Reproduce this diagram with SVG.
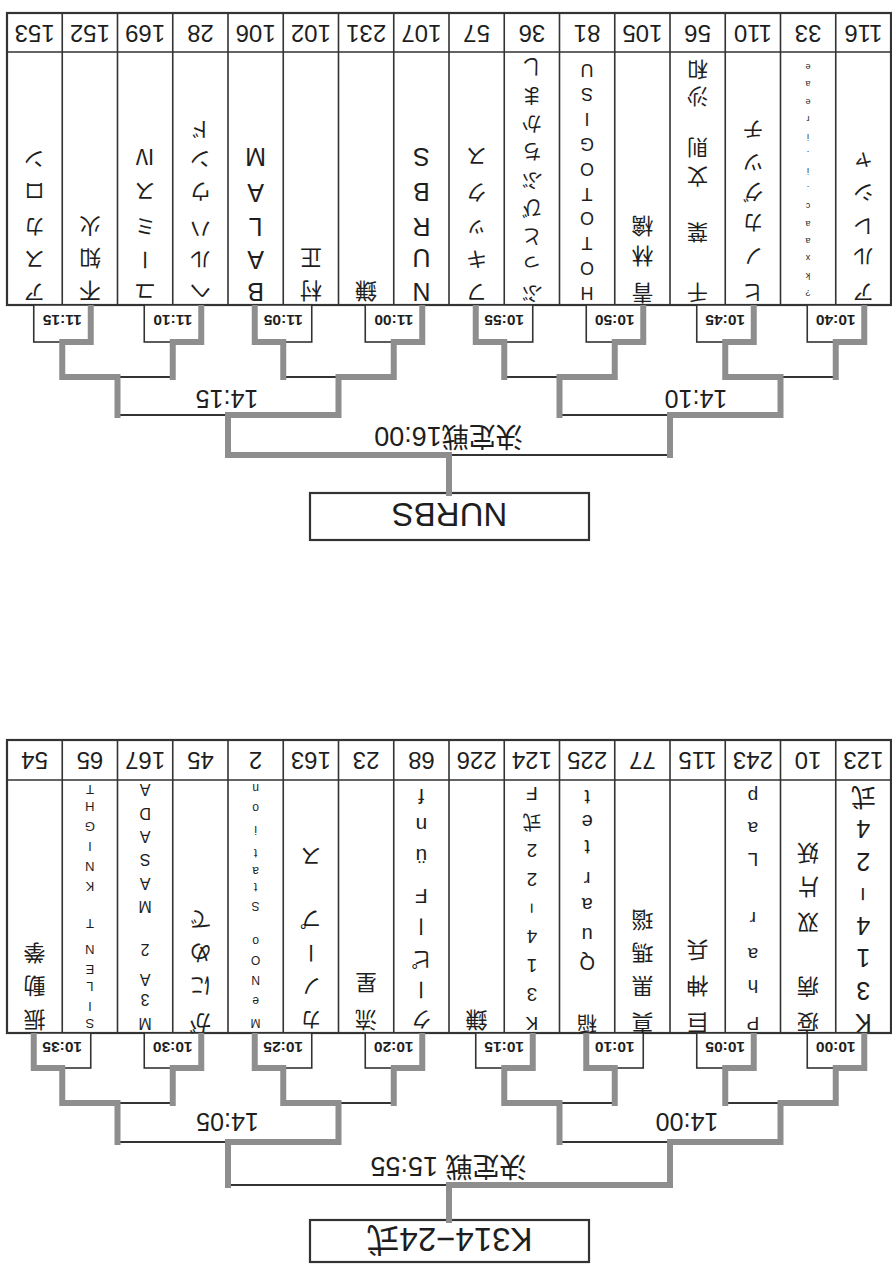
<svg xmlns="http://www.w3.org/2000/svg" width="892" height="1265" viewBox="0 0 892 1265">
<style>
.frame{fill:#fff;stroke:#333;stroke-width:2.2}
.grid{fill:none;stroke:#333;stroke-width:1.6}
.box{fill:#fff;stroke:#333;stroke-width:1.6}
.thin{fill:none;stroke:#333;stroke-width:2}
.thick{fill:none;stroke:#8e8e8e;stroke-width:6;stroke-linecap:square}
.edge{fill:none;stroke:#8e8e8e;stroke-width:6;stroke-linecap:butt}
text{font-family:"Liberation Sans","Noto Sans CJK JP",sans-serif;fill:#1e1e1e}
.num{font-size:24px;text-anchor:middle}
.tm{font-size:15.5px;font-weight:bold;text-anchor:middle}
.lv{font-size:25px;text-anchor:middle}
.fin{font-size:27px;text-anchor:middle}
.win{font-size:33px;text-anchor:middle}
.nm{text-anchor:middle}
</style>
<rect width="892" height="1265" fill="#fff"/>
<g transform="rotate(180 446 632.5)">
<!-- ===== K314 bracket (top when upright) ===== -->
<g id="k314-table">
<rect class="frame" x="1" y="232" width="884" height="293"/>
<path class="grid" d="M56.25 232V525M111.5 232V525M166.75 232V525M222 232V525M277.25 232V525M332.5 232V525M387.75 232V525M443 232V525M498.25 232V525M553.5 232V525M608.75 232V525M664 232V525M719.25 232V525M774.5 232V525M829.75 232V525M1 485H885"/>
</g>
<g id="k314-winner"><rect class="frame" x="303" y="3" width="279" height="42"/><text class="win" x="442.5" y="37">K314−24式</text></g>
<g id="k314-matches">
<g id="m1000"><rect class="box" x="27.75" y="197" width="57" height="35"/></g>
<g id="m1005"><rect class="box" x="138.25" y="197" width="57" height="35"/></g>
<g id="m1010"><rect class="box" x="248.75" y="197" width="57" height="35"/></g>
<g id="m1015"><rect class="box" x="359.25" y="197" width="57" height="35"/></g>
<g id="m1020"><rect class="box" x="469.75" y="197" width="57" height="35"/></g>
<g id="m1025"><rect class="box" x="580.25" y="197" width="57" height="35"/></g>
<g id="m1030"><rect class="box" x="690.75" y="197" width="57" height="35"/></g>
<g id="m1035"><rect class="box" x="801.25" y="197" width="57" height="35"/></g>
</g>
<g id="k314-connectors">
<path class="thin" d="M56.25 162H166.75M277.25 162H387.75M498.25 162H608.75M719.25 162H829.75M111.5 123H332.5M553.5 123H774.5M222 80H664"/>
<path class="thick" d="M56.25 162V197M166.75 162V197M277.25 162V197M387.75 162V197M498.25 162V197M608.75 162V197M719.25 162V197M829.75 162V197M111.5 123V162M332.5 123V162M553.5 123V162M774.5 123V162M222 80V123M664 80V123M443 45V80M56.25 162H111.5M332.5 162H387.75M553.5 162H608.75M774.5 162H829.75M111.5 123H222M553.5 123H664M222 80H443"/>
<path class="edge" d="M56.25 197H27.75V232M166.75 197H138.25V232M277.25 197H305.75V232M387.75 197H359.25V232M498.25 197H469.75V232M608.75 197H637.25V232M719.25 197H690.75V232M829.75 197H858.25V232"/>
</g>
<g id="k314-labels">
<text class="tm" x="56.25" y="223">10:00</text><text class="tm" x="166.75" y="223">10:05</text><text class="tm" x="277.25" y="223">10:10</text><text class="tm" x="387.75" y="223">10:15</text><text class="tm" x="498.25" y="223">10:20</text><text class="tm" x="608.75" y="223">10:25</text><text class="tm" x="719.25" y="223">10:30</text><text class="tm" x="829.75" y="223">10:35</text>
<text class="lv" x="205" y="152">14:00</text><text class="lv" x="664.5" y="152">14:05</text>
<text class="fin" x="443.5" y="108">決定戦 15:55</text>
</g>
<g id="k314-entries">
<g id="k-e0"><text class="num" x="28.6" y="513">123</text><text class="nm" font-size="25" x="28.6 28.6 28.6 28.6 27.9 28.6 28.6 28.6" y="251 283.3 315.6 347.9 363.8 412.4 444.7 477.5" rotate="0 0 0 0 90 0 0 0">K314−24式</text></g>
<g id="k-e1"><text class="num" x="83.9" y="513">10</text><text class="nm" font-size="22" x="83.9 83.9 83.9 83.9 83.9 83.9" y="249.7 286.3 318 349.7 386.3 419.7">疫病 双片妖</text></g>
<g id="k-e2"><text class="num" x="139.1" y="513">243</text><text class="nm" font-size="19" x="139.1 139.1 139.1 139.1 139.1 139.1 139.1 139.1" y="248.5 285.1 316.7 353.3 383 411.8 443.3 474.7">Phar Lap</text></g>
<g id="k-e3"><text class="num" x="194.4" y="513">115</text><text class="nm" font-size="22" x="194.4 194.4 194.4" y="250.1 286.7 323.4">巨神兵</text></g>
<g id="k-e4"><text class="num" x="249.6" y="513">77</text><text class="nm" font-size="22" x="249.6 249.6 249.6 249.6" y="250.1 286.7 320.1 353.4">真黒瑪瑙</text></g>
<g id="k-e5"><text class="num" x="304.9" y="513">225</text><text class="nm" font-size="20" x="304.9 304.9 304.9 304.9 304.9 304.9 304.9 304.9 304.9" y="249.3 276 308.9 336.9 366.9 393.5 424.9 450.2 474.9">稲 Quartet</text></g>
<g id="k-e6"><text class="num" x="360.1" y="513">124</text><text class="nm" font-size="19" x="360.1 360.1 360.1 360.1 359.6 360.1 360.1 360.1 360.1" y="248.5 277.2 306 334.7 351.2 392.2 421 450.1 478.5" rotate="0 0 0 0 90 0 0 0 0">K314−22式F</text></g>
<g id="k-e7"><text class="num" x="415.4" y="513">226</text><text class="nm" font-size="22" x="415.4" y="253.4">鎌</text></g>
<g id="k-e8"><text class="num" x="470.6" y="513">68</text><text class="nm" font-size="21" x="470.6 473.1 470.6 473.1 470.6 470.6 470.6 470.6" y="253 264.5 313 327.8 375.9 415.7 447.2 475.9" rotate="0 90 0 90 0 0 0 0">クーピーFünf</text></g>
<g id="k-e9"><text class="num" x="525.9" y="513">23</text><text class="nm" font-size="22" x="525.9 525.9" y="253.4 290.1">流星</text></g>
<g id="k-e10"><text class="num" x="581.1" y="513">163</text><text class="nm" font-size="21" x="581.1 581.1 583.6 581.1 581.1" y="253 286.3 301.2 353 416.3" rotate="0 0 90 0 0">カノープス</text></g>
<g id="k-e11"><text class="num" x="636.4" y="513">2</text><text class="nm" font-size="12" x="636.4 636.4 636.4 636.4 636.4 636.4 636.4 636.4 636.4 636.4 636.4 636.4 636.4" y="246 268.1 289.3 309.3 328.1 345 362.6 382.3 398.1 415.7 439.3 461.4 481.4">MeNOo Station</text></g>
<g id="k-e12"><text class="num" x="691.6" y="513">45</text><text class="nm" font-size="22" x="691.6 691.6 691.6 691.6" y="250.1 286.7 320.1 353.4">がにめで</text></g>
<g id="k-e13"><text class="num" x="746.9" y="513">167</text><text class="nm" font-size="16" x="746.9 746.9 746.9 746.9 746.9 746.9 746.9 746.9 746.9 746.9 746.9" y="247.5 270.8 290.8 320.8 342.5 364.1 387.5 410.8 434.1 457.5 480.8">M3A2 MASADA</text></g>
<g id="k-e14"><text class="num" x="802.1" y="513">65</text><text class="nm" font-size="13" x="802.1 802.1 802.1 802.1 802.1 802.1 802.1 802.1 802.1 802.1 802.1 802.1 802.1" y="246.4 263 283 299.7 319.7 346.4 364.7 383 403 423 443 463 479.7">SILENT KNIGHT</text></g>
<g id="k-e15"><text class="num" x="857.4" y="513">54</text><text class="nm" font-size="22" x="857.4 857.4 857.4" y="253.4 286.7 320.1">振動拳</text></g>
</g>

<!-- ===== NURBS bracket (bottom when upright) ===== -->
<g id="nurbs-table">
<rect class="frame" x="1" y="960" width="884" height="292"/>
<path class="grid" d="M56.25 960V1252M111.5 960V1252M166.75 960V1252M222 960V1252M277.25 960V1252M332.5 960V1252M387.75 960V1252M443 960V1252M498.25 960V1252M553.5 960V1252M608.75 960V1252M664 960V1252M719.25 960V1252M774.5 960V1252M829.75 960V1252M1 1213H885"/>
</g>
<g id="nurbs-winner"><rect class="frame" x="303" y="725" width="279" height="47"/><text class="win" x="442.5" y="762">NURBS</text></g>
<g id="nurbs-matches">
<g id="m1040"><rect class="box" x="27.75" y="923" width="57" height="37"/></g>
<g id="m1045"><rect class="box" x="138.25" y="923" width="57" height="37"/></g>
<g id="m1050"><rect class="box" x="248.75" y="923" width="57" height="37"/></g>
<g id="m1055"><rect class="box" x="359.25" y="923" width="57" height="37"/></g>
<g id="m1100"><rect class="box" x="469.75" y="923" width="57" height="37"/></g>
<g id="m1105"><rect class="box" x="580.25" y="923" width="57" height="37"/></g>
<g id="m1110"><rect class="box" x="690.75" y="923" width="57" height="37"/></g>
<g id="m1115"><rect class="box" x="801.25" y="923" width="57" height="37"/></g>
</g>
<g id="nurbs-connectors">
<path class="thin" d="M56.25 888H166.75M277.25 888H387.75M498.25 888H608.75M719.25 888H829.75M111.5 850H332.5M553.5 850H774.5M222 810H664"/>
<path class="thick" d="M56.25 888V923M166.75 888V923M277.25 888V923M387.75 888V923M498.25 888V923M608.75 888V923M719.25 888V923M829.75 888V923M111.5 850V888M332.5 850V888M553.5 850V888M774.5 850V888M222 810V850M664 810V850M443 772V810M111.5 888H166.75M277.25 888H332.5M498.25 888H553.5M774.5 888H829.75M111.5 850H222M553.5 850H664M443 810H664"/>
<path class="edge" d="M56.25 923H27.75V960M166.75 923H138.25V960M277.25 923H248.75V960M387.75 923H416.25V960M498.25 923H469.75V960M608.75 923H637.25V960M719.25 923H690.75V960M829.75 923H801.25V960"/>
</g>
<g id="nurbs-labels">
<text class="tm" x="56.25" y="950">10:40</text><text class="tm" x="166.75" y="950">10:45</text><text class="tm" x="277.25" y="950">10:50</text><text class="tm" x="387.75" y="950">10:55</text><text class="tm" x="498.25" y="950">11:00</text><text class="tm" x="608.75" y="950">11:05</text><text class="tm" x="719.25" y="950">11:10</text><text class="tm" x="829.75" y="950">11:15</text>
<text class="lv" x="196" y="875">14:10</text><text class="lv" x="665" y="875">14:15</text>
<text class="fin" x="443.5" y="838">決定戦16:00</text>
</g>
<g id="nurbs-entries">
<g id="n-e0"><text class="num" x="28.6" y="1240">116</text><text class="nm" font-size="21" x="28.6 28.6 28.6 28.6 28.6" y="979.7 1016.3 1046.3 1079.7 1109.7">アルレシャ</text></g>
<g id="n-e1"><text class="num" x="83.9" y="1240">33</text><text class="nm" font-size="9" x="83.9 83.9 83.9 83.9 83.9 83.9 83.9 83.9 83.9 83.9 83.9 83.9 83.9 83.9" y="974.9 992.3 1009.7 1027.1 1044.5 1061.9 1079.3 1096.7 1114.1 1131.5 1148.9 1166.3 1183.7 1201.1">?kxaac.i.ireae</text></g>
<g id="n-e2"><text class="num" x="139.1" y="1240">110</text><text class="nm" font-size="21" x="139.1 139.1 139.1 139.1 139.1 139.1" y="979.7 1016.3 1049.7 1079.7 1109.7 1143">ヒノカグツチ</text></g>
<g id="n-e3"><text class="num" x="194.4" y="1240">56</text><text class="nm" font-size="21" x="194.4 194.4 194.4 194.4 194.4 194.4 194.4 194.4" y="979.7 1039.7 1068 1096.3 1124.7 1150 1176.3 1203">千葉 文則 沙和</text></g>
<g id="n-e4"><text class="num" x="249.6" y="1240">105</text><text class="nm" font-size="22" x="249.6 249.6 249.6" y="980.1 1016.7 1046.7">青林檎</text></g>
<g id="n-e5"><text class="num" x="304.9" y="1240">81</text><text class="nm" font-size="18" x="304.9 304.9 304.9 304.9 304.9 304.9 304.9 304.9 304.9 304.9" y="978.2 1003 1027.8 1052.6 1077.4 1102.2 1127 1151.8 1176.6 1201.4">HOTOTOGISU</text></g>
<g id="n-e6"><text class="num" x="360.1" y="1240">36</text><text class="nm" font-size="20" x="360.1 360.1 360.1 360.1 360.1 360.1 360.1 360.1 360.1" y="979.3 1007.6 1035.9 1064.2 1092.5 1120.8 1149.1 1177.4 1205.7">ぶっとびぶちかまし</text></g>
<g id="n-e7"><text class="num" x="415.4" y="1240">57</text><text class="nm" font-size="21" x="415.4 415.4 415.4 415.4 415.4" y="979.7 1013 1043 1079.7 1116.3">フキックス</text></g>
<g id="n-e8"><text class="num" x="470.6" y="1240">107</text><text class="nm" font-size="25" x="470.6 470.6 470.6 470.6 470.6" y="982.3 1015.7 1047.3 1082.3 1117.3">NURBS</text></g>
<g id="n-e9"><text class="num" x="525.9" y="1240">231</text><text class="nm" font-size="22" x="525.9" y="981.7">鎌</text></g>
<g id="n-e10"><text class="num" x="581.1" y="1240">102</text><text class="nm" font-size="22" x="581.1 581.1" y="981.7 1015.1">村正</text></g>
<g id="n-e11"><text class="num" x="636.4" y="1240">106</text><text class="nm" font-size="25" x="636.4 636.4 636.4 636.4 636.4" y="982.3 1014 1047.3 1080.7 1117.3">BALAM</text></g>
<g id="n-e12"><text class="num" x="691.6" y="1240">28</text><text class="nm" font-size="21" x="691.6 691.6 691.6 691.6 691.6 691.6" y="981.3 1013 1043 1081.3 1113 1143">ヘルハウンド</text></g>
<g id="n-e13"><text class="num" x="746.9" y="1240">169</text><text class="nm" font-size="21" x="746.9 749.4 746.9 746.9 746.9" y="981.3 994.5 1046.3 1081.3 1116.3" rotate="0 90 0 0 0">ユーミスⅣ</text></g>
<g id="n-e14"><text class="num" x="802.1" y="1240">152</text><text class="nm" font-size="22" x="802.1 802.1 802.1" y="981.7 1015.1 1046.7">不知火</text></g>
<g id="n-e15"><text class="num" x="857.4" y="1240">153</text><text class="nm" font-size="21" x="857.4 857.4 857.4 857.4 857.4" y="979.7 1013 1046.3 1081.3 1113">アスカロン</text></g>
</g>
</g>
</svg>
